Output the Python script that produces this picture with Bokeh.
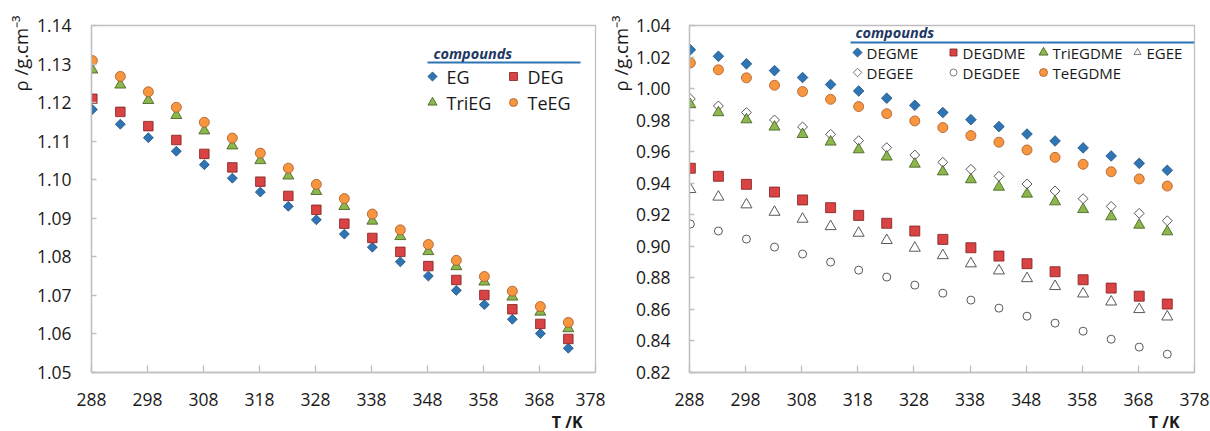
import numpy as np
from bokeh.plotting import figure
from bokeh.layouts import row
from bokeh.models import Range1d, FixedTicker, Label, Title, PrintfTickFormatter
from bokeh.embed import file_html
from bokeh.resources import INLINE

# ---------------- data ----------------
T = [288.15, 293.15, 298.15, 303.15, 308.15, 313.15, 318.15, 323.15, 328.15,
     333.15, 338.15, 343.15, 348.15, 353.15, 358.15, 363.15, 368.15, 373.15]

x_ticks = [288, 298, 308, 318, 328, 338, 348, 358, 368, 378]
left_y_ticks = [1.05, 1.06, 1.07, 1.08, 1.09, 1.10, 1.11, 1.12, 1.13, 1.14]
right_y_ticks = [0.82, 0.84, 0.86, 0.88, 0.90, 0.92, 0.94, 0.96, 0.98, 1.00, 1.02, 1.04]

EG = [1.1182, 1.1144, 1.1109, 1.1074, 1.1039, 1.1004, 1.0968, 1.0931, 1.0896,
      1.0859, 1.0825, 1.0787, 1.0750, 1.0713, 1.0676, 1.0638, 1.0601, 1.0563]
DEG = [1.1210, 1.1176, 1.1139, 1.1103, 1.1067, 1.1032, 1.0995, 1.0958, 1.0922,
       1.0886, 1.0849, 1.0813, 1.0776, 1.0740, 1.0701, 1.0664, 1.0626, 1.0587]
TriEG = [1.1285, 1.1246, 1.1206, 1.1167, 1.1127, 1.1088, 1.1050, 1.1010, 1.0970,
         1.0931, 1.0893, 1.0853, 1.0814, 1.0775, 1.0735, 1.0696, 1.0657, 1.0614]
TeEG = [1.1309, 1.1268, 1.1228, 1.1188, 1.1149, 1.1108, 1.1069, 1.1030, 1.0988,
        1.0951, 1.0911, 1.0870, 1.0832, 1.0791, 1.0749, 1.0711, 1.0671, 1.0630]

DEGME = [1.0246, 1.0205, 1.0157, 1.0114, 1.0070, 1.0026, 0.9985, 0.9939, 0.9894,
         0.9848, 0.9803, 0.9759, 0.9712, 0.9668, 0.9624, 0.9573, 0.9526, 0.9482]
TeEGDME = [1.0163, 1.0119, 1.0068, 1.0021, 0.9981, 0.9932, 0.9886, 0.9841, 0.9795,
           0.9753, 0.9702, 0.9660, 0.9611, 0.9564, 0.9520, 0.9473, 0.9427, 0.9382]
DEGEE = [0.9935, 0.9890, 0.9848, 0.9801, 0.9757, 0.9710, 0.9670, 0.9626, 0.9579,
         0.9533, 0.9488, 0.9444, 0.9395, 0.9351, 0.9302, 0.9253, 0.9209, 0.9162]
TriEGDME = [0.9899, 0.9848, 0.9803, 0.9757, 0.9710, 0.9662, 0.9613, 0.9567, 0.9522,
            0.9473, 0.9423, 0.9376, 0.9332, 0.9283, 0.9234, 0.9188, 0.9135, 0.9093]
DEGDME = [0.9495, 0.9444, 0.9393, 0.9344, 0.9294, 0.9245, 0.9196, 0.9146, 0.9097,
          0.9044, 0.8991, 0.8938, 0.8890, 0.8839, 0.8788, 0.8735, 0.8684, 0.8634]
EGEE = [0.9361, 0.9313, 0.9264, 0.9217, 0.9173, 0.9126, 0.9084, 0.9038, 0.8989,
        0.8942, 0.8890, 0.8845, 0.8796, 0.8746, 0.8699, 0.8648, 0.8600, 0.8553]
DEGDEE = [0.9141, 0.9097, 0.9046, 0.8995, 0.8951, 0.8900, 0.8849, 0.8805, 0.8754,
          0.8703, 0.8659, 0.8608, 0.8557, 0.8513, 0.8462, 0.8411, 0.8361, 0.8316]

FONT = "Open Sans"
BLUE, BLUE_L = "#2E75B6", "#1F4E79"
RED, RED_L = "#D94343", "#7F1F1F"
GREEN, GREEN_L = "#8DB64C", "#3D5A1E"
ORANGE, ORANGE_L = "#F7963F", "#A8582A"
GRAYL = "#595959"
FRAME = "#BFBFBF"
LEG_TITLE = "#1F3864"
TXT = "#1a1a1a"
ROT = np.pi / 4  # square rotated 45 degrees = Excel-style diamond


def make_fig(ylo, yhi, yticks, left_border, right_border, fw, ylab_standoff, t_offset, y_std):
    p = figure(width=left_border + fw + right_border, height=431,
               frame_width=fw, frame_height=347,
               min_border_left=left_border, min_border_right=right_border,
               min_border_top=25, min_border_bottom=59,
               x_range=Range1d(288, 378), y_range=Range1d(ylo, yhi),
               output_backend="svg", toolbar_location=None)
    p.xgrid.visible = False
    p.ygrid.visible = False
    p.outline_line_color = FRAME
    p.outline_line_width = 1.3
    p.background_fill_color = "white"
    p.border_fill_color = "white"
    for ax in (p.xaxis[0], p.yaxis[0]):
        ax.axis_line_color = FRAME
        ax.axis_line_width = 1.3
        ax.major_tick_line_color = FRAME
        ax.major_tick_line_width = 1.3
        ax.minor_tick_line_color = None
        ax.major_tick_out = 0
        ax.major_label_text_font = FONT
        ax.major_label_text_font_size = "17.5px"
        ax.major_label_text_color = TXT
    p.xaxis[0].ticker = FixedTicker(ticks=x_ticks)
    p.xaxis[0].major_tick_in = 7
    p.xaxis[0].major_label_standoff = 20
    p.yaxis[0].ticker = FixedTicker(ticks=yticks)
    p.yaxis[0].major_tick_in = 5
    p.yaxis[0].major_label_standoff = y_std
    p.yaxis[0].formatter = PrintfTickFormatter(format="%.2f")
    # axis titles
    p.add_layout(Title(text="ρ /g.cm⁻³", align="right", offset=-10, standoff=ylab_standoff,
                       text_font=FONT, text_font_size="18.5px", text_font_style="normal",
                       text_color=TXT), "left")
    p.add_layout(Title(text="T /K", align="right", offset=t_offset, standoff=1,
                       text_font=FONT, text_font_size="16px", text_font_style="bold",
                       text_color=TXT), "below")
    return p


# ---------------- left chart ----------------
pL = make_fig(1.05, 1.14, left_y_ticks, 91, 10, 504, 1, 13, 20)


def lx(px):
    return 288 + (px - 91) * 90 / 504


def ly(py):
    return 1.14 - (py - 25) * 0.09 / 347


pL.scatter(T, EG, marker="square", angle=ROT, size=7, fill_color=BLUE, line_color=BLUE_L, line_width=0.8)
pL.scatter(T, DEG, marker="square", size=9.5, fill_color=RED, line_color=RED_L, line_width=0.8)
pL.scatter(T, TriEG, marker="triangle", size=11, fill_color=GREEN, line_color=GREEN_L, line_width=0.8)
pL.scatter(T, TeEG, marker="circle", size=10, fill_color=ORANGE, line_color=ORANGE_L, line_width=0.8)

# left legend
pL.add_layout(Label(x=lx(433), y=ly(53), text="compounds", text_align="left",
                    text_baseline="middle", text_font=FONT, text_font_style="bold italic",
                    text_font_size="14.5px", text_color=LEG_TITLE))
pL.line([lx(427), lx(580)], [ly(62), ly(62)], line_color=BLUE, line_width=2)
leg_l = [("EG", "square", ROT, 432, 76, BLUE, BLUE_L, 6.5),
         ("DEG", "square", 0, 513, 76, RED, RED_L, 8),
         ("TriEG", "triangle", 0, 432, 102, GREEN, GREEN_L, 9),
         ("TeEG", "circle", 0, 513, 102, ORANGE, ORANGE_L, 8)]
for name, mk, ang, px, py, fc, lc, sz in leg_l:
    pL.scatter([lx(px)], [ly(py)], marker=mk, angle=ang, size=sz, fill_color=fc,
               line_color=lc, line_width=0.8)
    pL.add_layout(Label(x=lx(px + 14), y=ly(py), text=name, text_align="left",
                        text_baseline="middle", text_font=FONT, text_font_size="18px",
                        text_color=TXT))

# ---------------- right chart ----------------
pR = make_fig(0.82, 1.04, right_y_ticks, 82, 18, 505, 0, 15, 19)


def rx(px):
    return 288 + (px - 687) * 90 / 505


def ry(py):
    return 1.04 - (py - 25) * 0.22 / 347


pR.scatter(T, DEGME, marker="square", angle=ROT, size=7.5, fill_color=BLUE, line_color=BLUE_L, line_width=0.8)
pR.scatter(T, TeEGDME, marker="circle", size=10, fill_color=ORANGE, line_color=ORANGE_L, line_width=0.8)
pR.scatter(T, DEGEE, marker="square", angle=ROT, size=7, fill_color="white", line_color=GRAYL, line_width=1)
pR.scatter(T, TriEGDME, marker="triangle", size=11, fill_color=GREEN, line_color=GREEN_L, line_width=0.8)
pR.scatter(T, DEGDME, marker="square", size=10, fill_color=RED, line_color=RED_L, line_width=0.8)
pR.scatter(T, EGEE, marker="triangle", size=11, fill_color="white", line_color=GRAYL, line_width=1)
pR.scatter(T, DEGDEE, marker="circle", size=8, fill_color="white", line_color=GRAYL, line_width=1)

# right legend
pR.add_layout(Label(x=rx(853), y=ry(32), text="compounds", text_align="left",
                    text_baseline="middle", text_font=FONT, text_font_style="bold italic",
                    text_font_size="14.5px", text_color=LEG_TITLE))
pR.line([rx(848), rx(1192)], [ry(42), ry(42)], line_color=BLUE, line_width=2)
leg_r = [("DEGME", "square", ROT, 855, 52, BLUE, BLUE_L, 6.5),
         ("DEGDME", "square", 0, 951, 52, RED, RED_L, 7),
         ("TriEGDME", "triangle", 0, 1041, 52, GREEN, GREEN_L, 9),
         ("EGEE", "triangle", 0, 1135, 52, "white", GRAYL, 7),
         ("DEGEE", "square", ROT, 855, 72, "white", GRAYL, 6),
         ("DEGDEE", "circle", 0, 951, 72, "white", GRAYL, 7),
         ("TeEGDME", "circle", 0, 1041, 72, ORANGE, ORANGE_L, 8)]
for name, mk, ang, px, py, fc, lc, sz in leg_r:
    pR.scatter([rx(px)], [ry(py)], marker=mk, angle=ang, size=sz, fill_color=fc,
               line_color=lc, line_width=0.8)
    pR.add_layout(Label(x=rx(px + 9), y=ry(py), text=name,
                        text_align="left", text_baseline="middle", text_font=FONT,
                        text_font_size="15px", text_color=TXT))

layout = row(pL, pR)
open("out.html", "w").write(file_html(layout, INLINE))
